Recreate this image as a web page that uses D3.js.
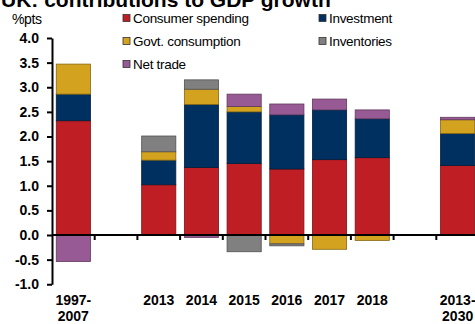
<!DOCTYPE html>
<html>
<head>
<meta charset="utf-8">
<script src="https://cdn.jsdelivr.net/npm/d3@7"></script>
<style>
  html, body { margin: 0; padding: 0; background: #fff; }
  svg { display: block; font-family: "Liberation Sans", Arial, sans-serif; }
</style>
</head>
<body>
<svg id="chart" width="475" height="324"></svg>
<script>
// Contributions to GDP growth, percentage points
const categories = ["1997-2007", "2013", "2014", "2015", "2016", "2017", "2018", "2013-2030"];
// Band slots along the x axis; null marks an empty gap slot
const slots = ["1997-2007", null, "2013", "2014", "2015", "2016", "2017", "2018", null, "2013-2030"];

const consumerSpending = [2.32, 1.02, 1.37, 1.45, 1.34, 1.53, 1.57, 1.41];
const investment       = [0.54, 0.50, 1.28, 1.05, 1.10, 1.01, 0.79, 0.65];
const govtConsumption  = [0.61, 0.17, 0.31, 0.11, -0.18, -0.29, -0.11, 0.28];
const inventories      = [0.00, 0.32, 0.19, -0.34, -0.04, 0.00, 0.00, 0.00];
const netTrade         = [-0.54, 0.00, -0.05, 0.25, 0.22, 0.22, 0.18, 0.05];

const yTicks = [-1.0, -0.5, 0.0, 0.5, 1.0, 1.5, 2.0, 2.5, 3.0, 3.5, 4.0];

const series = [
  { key: "consumer",    name: "Consumer spending", values: consumerSpending, color: "#BF1E24" },
  { key: "investment",  name: "Investment",        values: investment,       color: "#00305F" },
  { key: "govt",        name: "Govt. consumption", values: govtConsumption,  color: "#D3A21F" },
  { key: "inventories", name: "Inventories",       values: inventories,      color: "#808080" },
  { key: "netTrade",    name: "Net trade",         values: netTrade,         color: "#985A94" }
];

const rows = categories.map((c, i) => {
  const r = { category: c };
  series.forEach(s => r[s.key] = s.values[i]);
  return r;
});

const svg = d3.select("#chart");
const W = 475, H = 324;
svg.append("rect").attr("width", W).attr("height", H).attr("fill", "#fff");

const slotKeys = slots.map((s, i) => s === null ? "gap" + i : s);
const x = d3.scaleBand()
  .domain(slotKeys)
  .range([52, 479])
  .paddingInner(0.2)
  .paddingOuter(0.1);

const y = d3.scaleLinear().domain([-1, 4]).range([284.25, 38]);

// Title, running off the top edge of the page
svg.append("text")
  .attr("x", 1).attr("y", 7)
  .attr("font-size", 21).attr("font-weight", "bold").attr("fill", "#000")
  .text("UK: contributions to GDP growth");

// Unit label
svg.append("text")
  .attr("x", 12).attr("y", 24)
  .attr("font-size", 14).attr("letter-spacing", -0.4).attr("fill", "#000")
  .text("%pts");

// Stacked bars, positives up and negatives down
const stack = d3.stack()
  .keys(series.map(s => s.key))
  .offset(d3.stackOffsetDiverging);
const stacked = stack(rows);

const barsG = svg.append("g");
stacked.forEach((layer, li) => {
  const s = series[li];
  barsG.append("g")
    .selectAll("rect")
    .data(layer.filter(d => d[1] - d[0] !== 0))
    .join("rect")
    .attr("x", d => x(d.data.category))
    .attr("width", x.bandwidth())
    .attr("y", d => y(Math.max(d[0], d[1])))
    .attr("height", d => Math.abs(y(d[0]) - y(d[1])))
    .attr("fill", s.color)
    .attr("stroke", d3.color(s.color).darker(1.3))
    .attr("stroke-width", 0.8);
});

// Y axis
const yAxis = d3.axisLeft(y)
  .tickValues(yTicks)
  .tickFormat(d => d.toFixed(1))
  .tickSize(5)
  .tickSizeOuter(0)
  .tickPadding(8);
const yG = svg.append("g").attr("transform", "translate(52,0)").call(yAxis);
yG.select(".domain").attr("stroke", "#000").attr("stroke-width", 2);
yG.selectAll(".tick line").attr("stroke", "#000").attr("stroke-width", 2);
yG.selectAll(".tick text")
  .attr("font-size", 14).attr("font-weight", "bold").attr("fill", "#000")
  .attr("font-family", "Liberation Sans, Arial, sans-serif");

// X axis: zero line, ticks between slots
const zeroY = y(0);
svg.append("line")
  .attr("x1", 52).attr("x2", W)
  .attr("y1", zeroY).attr("y2", zeroY)
  .attr("stroke", "#000").attr("stroke-width", 2);

const boundaries = d3.range(1, slotKeys.length).map(k => x.range()[0] + k * x.step());
svg.append("g").selectAll("line")
  .data(boundaries)
  .join("line")
  .attr("x1", d => d).attr("x2", d => d)
  .attr("y1", zeroY).attr("y2", zeroY + 5)
  .attr("stroke", "#000").attr("stroke-width", 2);

// Category labels below the plot
const labelG = svg.append("g")
  .attr("font-size", 14).attr("font-weight", "bold").attr("fill", "#000")
  .attr("text-anchor", "middle");
categories.forEach(c => {
  const cx = x(c) + x.bandwidth() / 2;
  const parts = c.includes("-") ? [c.split("-")[0] + "-", c.split("-")[1]] : [c];
  const t = labelG.append("text").attr("x", cx).attr("y", 305);
  parts.forEach((p, i) => {
    t.append("tspan").attr("x", cx).attr("dy", i === 0 ? 0 : 16).text(p);
  });
});

// Legend
const legendPos = [
  { x: 123, y: 18 }, { x: 319, y: 18 },
  { x: 123, y: 41 }, { x: 319, y: 41 },
  { x: 123, y: 64 }
];
const legend = svg.append("g");
series.forEach((s, i) => {
  const p = legendPos[i];
  const g = legend.append("g").attr("transform", `translate(${p.x},${p.y})`);
  g.append("rect")
    .attr("x", 0).attr("y", -3.5).attr("width", 7).attr("height", 7)
    .attr("fill", s.color).attr("stroke", "#333").attr("stroke-width", 0.8);
  g.append("text")
    .attr("x", 10).attr("y", 5)
    .attr("font-size", 13.5).attr("letter-spacing", -0.3).attr("fill", "#000")
    .text(s.name);
});
</script>
</body>
</html>
